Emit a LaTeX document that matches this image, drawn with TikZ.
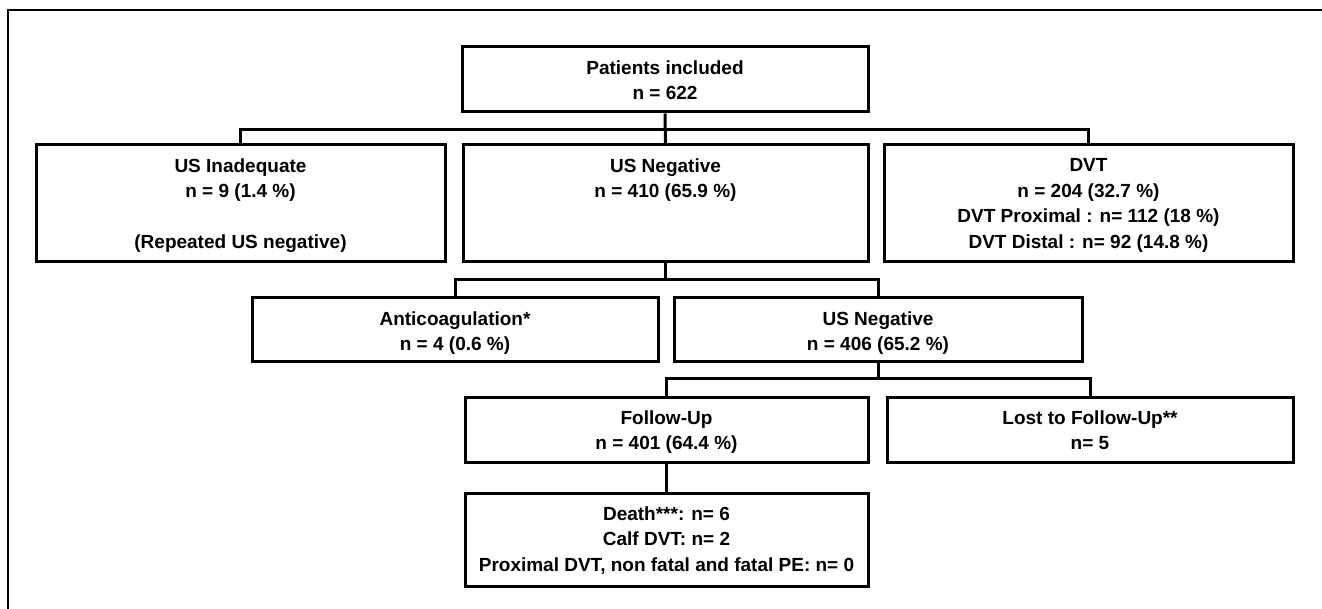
\documentclass[tikz,border=0pt]{standalone}
\usepackage{fontspec}
\setmainfont{Liberation Sans}
\begin{document}
\begin{tikzpicture}[x=1pt,y=-1pt,
  box/.style={draw, line width=3pt, rectangle, inner sep=0pt},
  txt/.style={anchor=north, inner sep=0pt, align=center, font=\fontsize{19}{25.5}\selectfont\bfseries},
  conn/.style={line width=3pt},
  frame/.style={line width=1.5pt}]
\useasboundingbox (0,0) rectangle (1322,609);
\coordinate (fa) at (8,609);
\coordinate (fb) at (8,10);
\coordinate (fc) at (1322,10);
\draw[frame] (fa) -- (fb) -- (fc);

% boxes
\node[box, minimum width=406pt, minimum height=65pt] (pat) at (665,79.5) {};
\node[box, minimum width=409pt, minimum height=117pt] (A) at (240.5,203.5) {};
\node[box, minimum width=405pt, minimum height=117pt] (B) at (665.5,203.5) {};
\node[box, minimum width=409pt, minimum height=117pt] (C) at (1088.5,203.5) {};
\node[box, minimum width=406pt, minimum height=64pt] (D) at (455,330) {};
\node[box, minimum width=408pt, minimum height=64pt] (E) at (878,330) {};
\node[box, minimum width=403pt, minimum height=65pt] (F) at (666.5,429.5) {};
\node[box, minimum width=406pt, minimum height=65pt] (G) at (1090,429.5) {};
\node[box, minimum width=403pt, minimum height=93pt] (H) at (666.5,539.5) {};

% texts
\node[txt] (patT) at ([yshift=-15pt]pat.north) {Patients included\\n = 622};
\node[txt] (AT) at ([yshift=-15pt]A.north) {US Inadequate\\n = 9 (1.4 \%)\\[25.5pt](Repeated US negative)};
\node[txt] (BT) at ([yshift=-15pt]B.north) {US Negative\\n = 410 (65.9 \%)};
\node[txt] (CT) at ([yshift=-15pt]C.north) {DVT\\n = 204 (32.7 \%)\\DVT Proximal : n= 112 (18 \%)\\DVT Distal : n= 92 (14.8 \%)};
\node[txt] (DT) at ([yshift=-15pt]D.north) {Anticoagulation*\\n = 4 (0.6 \%)};
\node[txt] (ET) at ([yshift=-15pt]E.north) {US Negative\\n = 406 (65.2 \%)};
\node[txt] (FT) at ([yshift=-15pt]F.north) {Follow-Up\\n = 401 (64.4 \%)};
\node[txt] (GT) at ([yshift=-15pt]G.north) {Lost to Follow-Up**\\n= 5};
\node[txt] (HT) at ([yshift=-15pt]H.north) {Death***: n= 6\\Calf DVT: n= 2\\Proximal DVT, non fatal and fatal PE: n= 0};

% connectors
\coordinate (bus1) at (0,130);
\coordinate (bus2) at (0,280);
\coordinate (bus3) at (0,378);
\draw[conn] (pat.south) -- (B.north);
\draw[conn] (A.north) -- (A.north |- bus1) -- (C.north |- bus1) -- (C.north);
\draw[conn] (B.south) -- (B.south |- bus2);
\draw[conn] (D.north) -- (D.north |- bus2) -- (E.north |- bus2) -- (E.north);
\draw[conn] (E.south) -- (E.south |- bus3);
\draw[conn] (F.north) -- (F.north |- bus3) -- (G.north |- bus3) -- (G.north);
\draw[conn] (F.south) -- (H.north);
\end{tikzpicture}
\end{document}
